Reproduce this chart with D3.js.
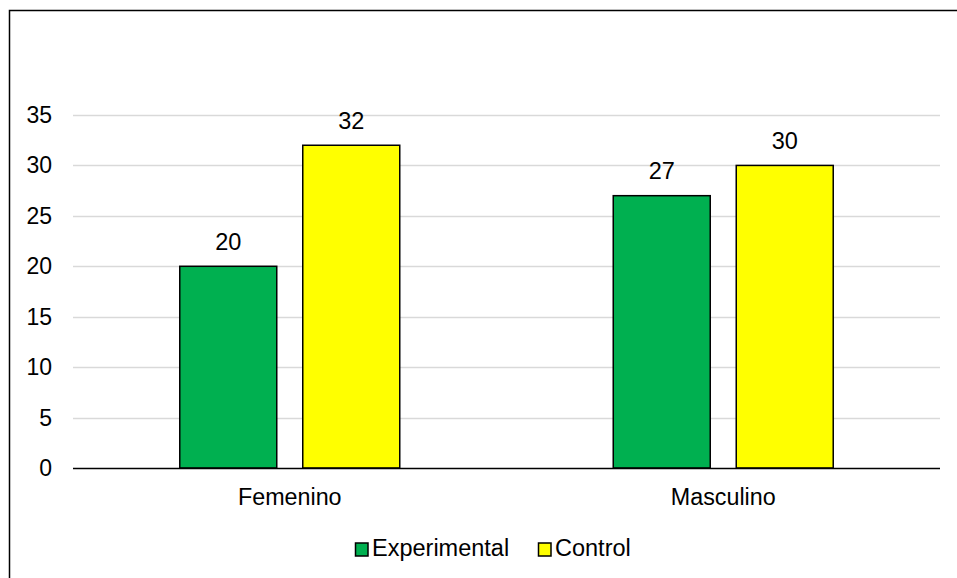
<!DOCTYPE html>
<html><head><meta charset="utf-8">
<script src="https://cdn.jsdelivr.net/npm/d3@7"></script>
<style>body{margin:0;background:#fff}svg{display:block;font-family:Arial,"Liberation Sans",sans-serif}</style>
</head><body>
<svg id="c" width="957" height="578"></svg>
<script>
const categories = ["Femenino", "Masculino"];
const seriesNames = ["Experimental", "Control"];
const experimental = [20, 27];
const control = [32, 30];
const yTicks = [0, 5, 10, 15, 20, 25, 30, 35];
const colors = ["#00b050", "#ffff00"];

const svg = d3.select("#c");
svg.append("rect").attr("x", 9.5).attr("y", 10.5).attr("width", 960).attr("height", 600)
  .attr("fill", "#fff").attr("stroke", "#000").attr("stroke-width", 1.5);

const y = d3.scaleLinear().domain([0, 35]).range([468, 115]);
const x0 = d3.scaleBand().domain(categories).range([73, 940]).paddingInner(0.4925).paddingOuter(0.2463);
const x1 = d3.scaleBand().domain(seriesNames).range([0, x0.bandwidth()]).paddingInner(0.2114).paddingOuter(0);

// gridlines
svg.append("g").selectAll("line").data(yTicks.filter(d => d > 0)).join("line")
  .attr("x1", 73).attr("x2", 940).attr("y1", d => Math.round(y(d)) + 0.5).attr("y2", d => Math.round(y(d)) + 0.5)
  .attr("stroke", "#d9d9d9").attr("stroke-width", 1.5);

// y tick labels
svg.append("g").selectAll("text").data(yTicks).join("text")
  .attr("x", 52).attr("y", d => y(d)).attr("dy", "0.35em").attr("text-anchor", "end")
  .attr("font-size", 23).attr("fill", "#000").text(d => d);

const data = categories.map((c, i) => ({cat: c, vals: [experimental[i], control[i]]}));
const g = svg.append("g").selectAll("g").data(data).join("g")
  .attr("transform", d => `translate(${x0(d.cat)},0)`);
g.selectAll("rect").data(d => d.vals.map((v, j) => ({s: seriesNames[j], v, j}))).join("rect")
  .attr("x", d => x1(d.s)).attr("y", d => y(d.v)).attr("width", x1.bandwidth()).attr("height", d => y(0) - y(d.v))
  .attr("fill", d => colors[d.j]).attr("stroke", "#000").attr("stroke-width", 1.5);
g.selectAll("text").data(d => d.vals.map((v, j) => ({s: seriesNames[j], v, j}))).join("text")
  .attr("x", d => x1(d.s) + x1.bandwidth() / 2).attr("y", d => y(d.v) - 16.5)
  .attr("text-anchor", "middle").attr("font-size", 23.5).attr("fill", "#000").text(d => d.v);

// x axis line
svg.append("line").attr("x1", 73).attr("x2", 940).attr("y1", 468.5).attr("y2", 468.5)
  .attr("stroke", "#000").attr("stroke-width", 1.5);

// category labels
svg.append("g").selectAll("text").data(categories).join("text")
  .attr("x", d => x0(d) + x0.bandwidth() / 2).attr("y", 504.5)
  .attr("text-anchor", "middle").attr("font-size", 23.3).attr("fill", "#000").text(d => d);

// legend
const legendX = [355, 538];
const lg = svg.append("g").selectAll("g").data(seriesNames).join("g")
  .attr("transform", (d, i) => `translate(${legendX[i]},0)`);
lg.append("rect").attr("x", 0.5).attr("y", 543).attr("width", 12.5).attr("height", 13)
  .attr("fill", (d, i) => colors[i]).attr("stroke", "#000").attr("stroke-width", 1.5);
lg.append("text").attr("x", 17).attr("y", 556)
  .attr("font-size", 23.5).attr("fill", "#000").text(d => d);
</script>
</body></html>
